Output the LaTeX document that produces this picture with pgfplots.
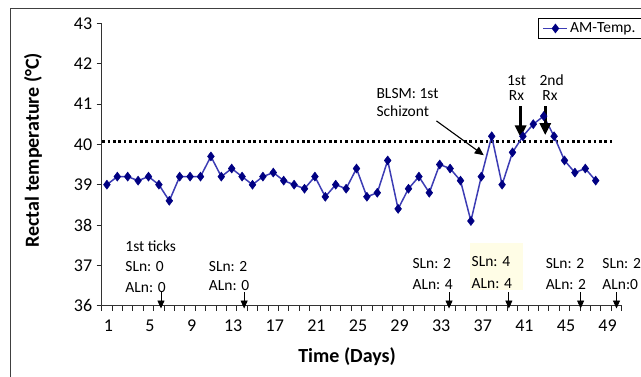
\documentclass[border=0pt]{standalone}
\usepackage{pgfplots}
\pgfplotsset{compat=1.18}
\usepackage{fontspec}
\setmainfont{Carlito}
\usetikzlibrary{arrows.meta}
\definecolor{lineblue}{RGB}{60,60,180}
\definecolor{markblue}{RGB}{0,0,130}
\definecolor{hilite}{RGB}{255,253,230}
\begin{document}
\begin{tikzpicture}
\newcommand{\af}{\fontsize{15.5}{17}\selectfont}
\begin{axis}[
  scale only axis, width=520pt, height=282.4pt,
  xmin=0.5, xmax=50.5, ymin=36, ymax=43,
  axis x line*=bottom, axis y line*=left,
  axis line style={black!80, line width=0.9pt},
  clip=false,
  xtick={0.5,1.5,...,50.5}, xticklabels={},
  extra x ticks={1,5,9,13,17,21,25,29,33,37,41,45,49},
  extra x tick labels={1,5,9,13,17,21,25,29,33,37,41,45,49},
  extra x tick style={xtick style={draw=none}},
  ytick={36,37,...,43},
  xtick align=outside, ytick align=outside,
  xtick style={black!85, line width=1.1pt},
  ytick style={black!85, line width=0.9pt},
  major tick length=5pt,
  /pgf/number format/assume math mode=true,
  tick label style={font=\fontsize{18}{20}\selectfont},
  xticklabel style={yshift=-6pt, xshift=1.5pt},
  yticklabel style={xshift=-1pt},
  xlabel={\textbf{Time (Days)}},
  ylabel={\textbf{Rectal temperature (°C)}},
  label style={font=\fontsize{20}{22}\selectfont},
  xlabel style={at={(axis description cs:0.472,0)}, anchor=center, yshift=-51pt},
  ylabel style={at={(axis description cs:-0.1321,0.551)}, anchor=center},
  legend style={at={(axis description cs:0.8396,1.0177)}, anchor=north west,
    draw=black, line width=0.8pt, font=\fontsize{15.5}{17}\selectfont,
    inner xsep=4pt, inner ysep=2pt},
  legend image code/.code={\draw[mark repeat=2,mark phase=2] plot coordinates {(0pt,0pt) (12pt,0pt) (24pt,0pt)};},
]
% highlight box
\fill[hilite] (axis cs:35.91,36.39) rectangle (axis cs:41.02,37.55);
\addplot[black, line width=2.6pt, dash pattern=on 2.6pt off 2.8pt, forget plot]
  coordinates {(0.55,40.07) (49.8,40.07)};
\addplot[lineblue, line width=1.5pt, mark=diamond*, mark size=4.5pt,
  mark options={markblue, fill=markblue, solid, line width=0.5pt}]
  coordinates {
(1,39.0) (2,39.2) (3,39.2) (4,39.1) (5,39.2) (6,39.0) (7,38.6) (8,39.2)
(9,39.2) (10,39.2) (11,39.7) (12,39.2) (13,39.4) (14,39.2) (15,39.0) (16,39.2)
(17,39.3) (18,39.1) (19,39.0) (20,38.9) (21,39.2) (22,38.7) (23,39.0) (24,38.9)
(25,39.4) (26,38.7) (27,38.8) (28,39.6) (29,38.4) (30,38.9) (31,39.2) (32,38.8)
(33,39.5) (34,39.4) (35,39.1) (36,38.1) (37,39.2) (38,40.2) (39,39.0) (40,39.8)
(41,40.2) (42,40.5) (43,40.7) (44,40.2) (45,39.6) (46,39.3) (47,39.4) (48,39.1)
  };
\addlegendentry{\makebox[92pt][l]{AM-Temp.}}
% bottom annotations
\node[anchor=west, inner sep=0pt, font=\af] at (axis cs:2.76,37.47) {1st ticks};
\node[anchor=west, inner sep=0pt, font=\af] at (axis cs:2.76,36.98) {SLn: 0};
\node[anchor=west, inner sep=0pt, font=\af] at (axis cs:2.76,36.45) {ALn: 0};
\node[anchor=west, inner sep=0pt, font=\af] at (axis cs:10.79,36.98) {SLn: 2};
\node[anchor=west, inner sep=0pt, font=\af] at (axis cs:10.79,36.51) {ALn: 0};
\node[anchor=west, inner sep=0pt, font=\af] at (axis cs:30.37,37.05) {SLn: 2};
\node[anchor=west, inner sep=0pt, font=\af] at (axis cs:30.37,36.53) {ALn: 4};
\node[anchor=west, inner sep=0pt, font=\af] at (axis cs:36.06,37.09) {SLn: 4};
\node[anchor=west, inner sep=0pt, font=\af] at (axis cs:36.06,36.56) {ALn: 4};
\node[anchor=west, inner sep=0pt, font=\af] at (axis cs:43.18,37.05) {SLn: 2};
\node[anchor=west, inner sep=0pt, font=\af] at (axis cs:43.18,36.53) {ALn: 2};
\node[anchor=west, inner sep=0pt, font=\af] at (axis cs:48.63,37.05) {SLn: 2};
\node[anchor=west, inner sep=0pt, font=\af] at (axis cs:48.63,36.53) {ALn:0};
\draw[black, line width=0.9pt, -{Triangle[width=7pt,length=8pt]}] (axis cs:6.2,36.33) -- (axis cs:6.2,35.93);
\draw[black, line width=0.9pt, -{Triangle[width=7pt,length=8pt]}] (axis cs:14.2,36.33) -- (axis cs:14.2,35.93);
\draw[black, line width=0.9pt, -{Triangle[width=7pt,length=8pt]}] (axis cs:33.9,36.33) -- (axis cs:33.9,35.93);
\draw[black, line width=0.9pt, -{Triangle[width=7pt,length=8pt]}] (axis cs:39.65,36.33) -- (axis cs:39.65,35.93);
\draw[black, line width=0.9pt, -{Triangle[width=7pt,length=8pt]}] (axis cs:46.55,36.33) -- (axis cs:46.55,35.93);
\draw[black, line width=0.9pt, -{Triangle[width=7pt,length=8pt]}] (axis cs:50.0,36.33) -- (axis cs:50.0,35.93);
% Rx annotations
\node[font=\af, inner sep=0pt] at (axis cs:40.39,41.59) {1st};
\node[font=\af, inner sep=0pt] at (axis cs:40.39,41.22) {Rx};
\node[font=\af, inner sep=0pt] at (axis cs:43.76,41.59) {2nd};
\node[font=\af, inner sep=0pt] at (axis cs:43.6,41.22) {Rx};
\draw[black, line width=3.2pt, -{Triangle[width=11pt,length=12pt]}] (axis cs:40.78,40.95) -- (axis cs:40.78,40.17);
\draw[black, line width=3.2pt, -{Triangle[width=11pt,length=12pt]}] (axis cs:43.15,40.95) -- (axis cs:43.15,40.23);
% BLSM annotation
\node[anchor=west, inner sep=0pt, font=\af] at (axis cs:26.91,41.26) {BLSM: 1st};
\node[anchor=west, inner sep=0pt, font=\af] at (axis cs:26.91,40.81) {Schizont};
\draw[black, line width=1.1pt, -{Triangle[width=8pt,length=9pt]}] (axis cs:32.69,40.58) -- (axis cs:37.24,39.73);
\end{axis}
\draw[black!75, line width=0.9pt] (-91.7pt,-200pt) -- (-91.7pt,297.2pt) -- (700pt,297.2pt);
\pgfresetboundingbox
\useasboundingbox (-101.7pt,-70.3pt) rectangle (539.3pt,305.7pt);
\end{tikzpicture}
\end{document}
